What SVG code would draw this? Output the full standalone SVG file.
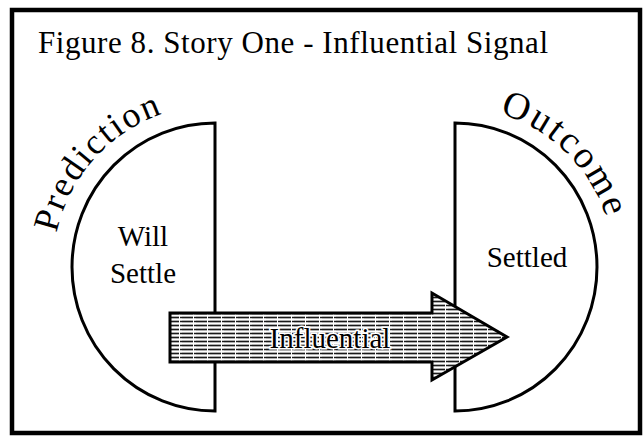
<svg xmlns="http://www.w3.org/2000/svg" width="643" height="441" viewBox="0 0 643 441">
  <defs>
    <pattern id="hatch" patternUnits="userSpaceOnUse" width="14" height="4">
      <rect width="14" height="4" fill="#ffffff"/>
      <line x1="0" y1="1.5" x2="11" y2="1.5" stroke="#1a1a1a" stroke-width="1.7"/>
      <line x1="12" y1="1.5" x2="14" y2="1.5" stroke="#1a1a1a" stroke-width="1.7"/>
    </pattern>
    <path id="predArc" d="M 55.5 238.9 A 162 162 0 0 1 192.5 106.6"/>
    <path id="outArc" d="M 481.8 109.4 A 160 160 0 0 1 611.6 239.2"/>
  </defs>
  <style>
    .shape { fill: #ffffff; stroke: #000000; stroke-width: 3; }
    text { font-family: 'Liberation Serif', 'Times New Roman', Times, serif; fill: #000000; }
    .lbl { font-size: 29px; text-anchor: middle; }
    .arc1 { font-size: 36px; }
    .arc2 { font-size: 38px; }
  </style>
  <rect x="0" y="0" width="643" height="441" fill="#ffffff"/>
  <rect x="12" y="10" width="628" height="423" fill="none" stroke="#000000" stroke-width="4.5"/>

  <g id="title">
    <text x="38" y="53" font-size="31" textLength="510" lengthAdjust="spacing">Figure 8.  Story One - Influential Signal</text>
  </g>

  <g id="prediction">
    <path class="shape" d="M 215 123 L 215 411 A 143 144 0 0 1 215 123 Z"/>
    <g id="prediction-label">
      <text class="arc1"><textPath href="#predArc" startOffset="6">P</textPath></text>
      <text class="arc1"><textPath href="#predArc" startOffset="28">r</textPath></text>
      <text class="arc1"><textPath href="#predArc" startOffset="42">e</textPath></text>
      <text class="arc1"><textPath href="#predArc" startOffset="60">d</textPath></text>
      <text class="arc1"><textPath href="#predArc" startOffset="80">i</textPath></text>
      <text class="arc1"><textPath href="#predArc" startOffset="92">c</textPath></text>
      <text class="arc1"><textPath href="#predArc" startOffset="110">t</textPath></text>
      <text class="arc1"><textPath href="#predArc" startOffset="122">i</textPath></text>
      <text class="arc1"><textPath href="#predArc" startOffset="134">o</textPath></text>
      <text class="arc1"><textPath href="#predArc" startOffset="154">n</textPath></text>
    </g>
    <text class="lbl" x="143" y="246">Will</text>
    <text class="lbl" x="143" y="283">Settle</text>
  </g>

  <g id="outcome">
    <path class="shape" d="M 455 123 L 455 411 A 142 144 0 0 0 455 123 Z"/>
    <text class="arc2" letter-spacing="2.5"><textPath href="#outArc" startOffset="18">Outcome</textPath></text>
    <text class="lbl" x="527" y="267">Settled</text>
  </g>

  <g id="connectors">
    <path d="M 170 313 L 432 313 L 432 293 L 507 337 L 432 380 L 432 362 L 170 362 Z" fill="url(#hatch)" stroke="#000000" stroke-width="3" stroke-linejoin="miter"/>
    <text x="330" y="348" font-size="29" text-anchor="middle" stroke="#ffffff" stroke-width="3" paint-order="stroke">Influential</text>
  </g>
</svg>
